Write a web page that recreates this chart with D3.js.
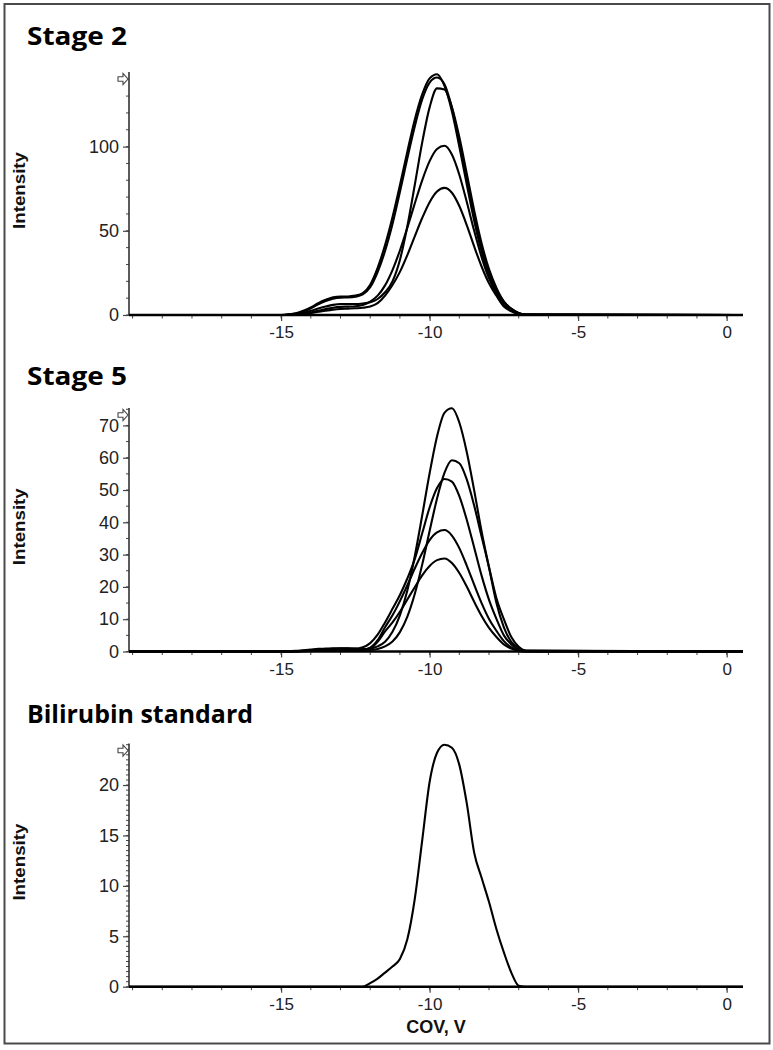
<!DOCTYPE html>
<html><head><meta charset="utf-8">
<script src="https://cdn.jsdelivr.net/npm/d3@7"></script>
<style>body{margin:0;background:#fff} svg{display:block}</style>
</head><body>
<svg id="c" width="773" height="1050"></svg>
<script>
// ---------- DATA ----------
const covGrid = [-20.12, -15, -14.75, -14.5, -14.25, -14, -13.75, -13.5, -13.25, -13, -12.75, -12.5, -12.25, -12,
  -11.75, -11.5, -11.25, -11, -10.75, -10.5, -10.25, -10, -9.75, -9.5, -9.25, -9, -8.75, -8.5, -8.25, -8,
  -7.75, -7.5, -7.25, -7, -6.75, 0.55];

const stage2A = [0, 0, 0.3, 1, 2.5, 4.5, 7, 9, 10.5, 11, 11, 11.5, 13, 18, 28, 41.5, 58, 77, 97, 116, 131, 140.5, 143, 136, 121, 100, 77.6, 56, 37.8, 23.7, 14, 7.6, 3.5, 1, 0.2, 0];
const stage2B = [0, 0, 0.2, 0.8, 2, 4, 6.3, 8.3, 9.7, 10.3, 10.4, 10.8, 12.2, 16.5, 25.5, 38, 54, 73, 93, 112, 128, 138, 141, 137, 123, 103, 80.5, 58.5, 39.5, 25, 15, 8, 3.8, 1.2, 0.2, 0];
const stage2C = [0, 0, 0.1, 0.5, 1.3, 2.5, 3.8, 5, 6, 6.5, 6.5, 6.5, 6.8, 7.5, 9.5, 13.5, 20, 32.7, 52.7, 77.2, 102.4, 123.3, 134.6, 133.9, 123.5, 105.7, 84.1, 62.1, 42.6, 27.2, 16.1, 8, 3.6, 1, 0.2, 0];
const stage2D = [0, 0, 0.1, 0.3, 0.8, 1.5, 2.5, 3.5, 4.3, 4.8, 5, 5.2, 6, 8, 11.5, 17.6, 26.7, 38.3, 51.8, 66.2, 80, 91.4, 98.6, 100.5, 95.3, 83.3, 67.2, 50, 34.4, 21.8, 12.7, 6, 2.8, 0.8, 0.1, 0];
const stage2E = [0, 0, 0.05, 0.2, 0.6, 1.2, 1.9, 2.6, 3.2, 3.6, 3.8, 4, 4.3, 5, 7, 11.5, 17.8, 25.6, 35.6, 46.7, 57.6, 67, 73.3, 75.5, 72.6, 64.7, 53.4, 40.7, 28.8, 18.8, 11.4, 5, 2.2, 0.6, 0.1, 0];

const stage5A = [0, 0, 0, 0.1, 0.2, 0.3, 0.5, 0.6, 0.7, 0.8, 0.8, 0.8, 0.7, 0.9, 1.6, 3.0, 6.1, 11.2, 18.9, 29.5, 42.1, 55.2, 66.6, 73.9, 75.3, 70.9, 61.8, 49.9, 37.2, 26, 15, 7.5, 3, 1, 0.2, 0];
const stage5B = [0, 0, 0, 0.1, 0.2, 0.4, 0.6, 0.7, 0.8, 0.9, 0.9, 0.8, 0.6, 0.5, 0.8, 1.6, 3.1, 6.0, 10.8, 17.8, 26.9, 37.3, 47.4, 55.3, 59.2, 58.3, 53.3, 45.2, 35.6, 26.1, 16.5, 10, 4.5, 1.5, 0.3, 0];
const stage5C = [0, 0, 0.1, 0.2, 0.4, 0.6, 0.8, 0.9, 1.0, 1.0, 1.0, 0.9, 1.3, 2.6, 5.2, 9.0, 13.2, 17.5, 22.6, 28.6, 36.6, 44.6, 50.6, 53.4, 52.6, 48.1, 40.8, 32.2, 23.5, 16, 10.1, 5, 2.2, 0.6, 0.1, 0];
const stage5D = [0, 0, 0, 0, 0.1, 0.2, 0.3, 0.4, 0.5, 0.5, 0.5, 0.5, 0.6, 1.2, 3.5, 7.5, 11.2, 15.6, 20.5, 25.7, 30.5, 34.5, 36.9, 37.6, 35.9, 32, 26.6, 20.7, 15, 10.1, 6.4, 3.2, 1.3, 0.3, 0, 0];
const stage5E = [0, 0, 0, 0, 0.1, 0.2, 0.3, 0.4, 0.5, 0.5, 0.5, 0.5, 0.5, 1.0, 3, 6.2, 9.0, 12.3, 16.1, 19.9, 23.6, 26.5, 28.3, 28.8, 27.4, 24.3, 20.1, 15.4, 11, 7.3, 4.5, 2.2, 0.9, 0.2, 0, 0];

const bilirubin = [0, 0, 0, 0, 0, 0, 0, 0, 0, 0, 0, 0, 0, 0.35, 0.8, 1.4, 2.0, 2.75, 4.7, 8.7, 14.5, 20.3, 23.2, 24.0, 23.7, 22.0, 18.2, 13.3, 10.8, 8.4, 5.7, 3.4, 1.4, 0.1, 0, 0];

const panelTitles = ["Stage 2", "Stage 5", "Bilirubin standard"];
const stage2YTicks = [0, 50, 100];
const stage5YTicks = [0, 10, 20, 30, 40, 50, 60, 70];
const bilirubinYTicks = [0, 5, 10, 15, 20];
const xTickValues = [-15, -10, -5, 0];
const yAxisTitle = "Intensity";
const xAxisTitle = "COV, V";

const panelSeries = [
  [stage2A, stage2B, stage2C, stage2D, stage2E],
  [stage5A, stage5B, stage5C, stage5D, stage5E],
  [bilirubin]
];
const panelYTicks = [stage2YTicks, stage5YTicks, bilirubinYTicks];
const panelYMax = [144.3, 75.4, 24.12];
const panelYMinor = [10, 5, 0.5];

// ---------- LAYOUT ----------
const layout = [
  {top: 72, zero: 315, titleY: 45, titleLen: 100},
  {top: 408, zero: 651.5, titleY: 385, titleLen: 100},
  {top: 743.5, zero: 986.7, titleY: 722.7, titleLen: 226}
];
const axisX = 129, axisRight = 743;
const fmt = d => String(d);

const svg = d3.select("#c");
svg.append("rect").attr("x", 0).attr("y", 0).attr("width", 773).attr("height", 1050).attr("fill", "#fff");
svg.append("rect").attr("x", 4.5).attr("y", 4).attr("width", 765).attr("height", 1039.5)
  .attr("fill", "none").attr("stroke", "#4a4a4a").attr("stroke-width", 2);

const x = d3.scaleLinear().domain([-20.12, 0.55]).range([axisX, axisRight]);

layout.forEach((L, p) => {
  const g = svg.append("g");
  const y = d3.scaleLinear().domain([0, panelYMax[p]]).range([L.zero, L.top]);

  // title
  g.append("text").attr("x", 27).attr("y", L.titleY)
    .attr("font-family", "'Open Sans', 'Noto Sans', sans-serif").attr("font-weight", "bold")
    .attr("font-size", 25.5).attr("textLength", L.titleLen).attr("lengthAdjust", "spacingAndGlyphs")
    .attr("fill", "#000").text(panelTitles[p]);

  // y title
  const yc = (L.top + L.zero) / 2 - 3;
  g.append("text").attr("transform", `translate(25,${yc}) rotate(-90)`)
    .attr("text-anchor", "middle").attr("font-family", "'Liberation Sans', Arial, sans-serif")
    .attr("font-weight", "bold").attr("font-size", 16).attr("textLength", 77).attr("lengthAdjust", "spacingAndGlyphs")
    .attr("fill", "#111").text(yAxisTitle);

  // y minor ticks
  g.append("g").selectAll("line").data(d3.range(0, panelYMax[p] + 1e-9, panelYMinor[p]))
    .join("line").attr("x1", axisX - 3).attr("x2", axisX)
    .attr("y1", d => y(d)).attr("y2", d => y(d)).attr("stroke", "#444").attr("stroke-width", 1);

  // y axis (major)
  const ya = g.append("g").attr("transform", `translate(${axisX},0)`)
    .call(d3.axisLeft(y).tickValues(panelYTicks[p]).tickSize(6).tickPadding(4).tickFormat(fmt));
  ya.select(".domain").remove();
  ya.selectAll(".tick line").attr("stroke", "#444").attr("stroke-width", 1.2);
  ya.selectAll(".tick text").attr("font-family", "'Liberation Sans', Arial, sans-serif")
    .attr("font-size", 18).attr("fill", "#222");

  // y axis line
  g.append("line").attr("x1", axisX).attr("x2", axisX).attr("y1", L.top).attr("y2", L.zero)
    .attr("stroke", "#333").attr("stroke-width", 1.6);

  // x minor ticks
  g.append("g").selectAll("line").data(d3.range(-20, 1, 1))
    .join("line").attr("x1", d => x(d)).attr("x2", d => x(d))
    .attr("y1", L.zero).attr("y2", L.zero + 3.5).attr("stroke", "#444").attr("stroke-width", 1);

  // x axis major
  const xa = g.append("g").attr("transform", `translate(0,${L.zero})`)
    .call(d3.axisBottom(x).tickValues(xTickValues).tickSize(6).tickPadding(5).tickFormat(fmt));
  xa.select(".domain").remove();
  xa.selectAll(".tick line").attr("stroke", "#444").attr("stroke-width", 1.2);
  xa.selectAll(".tick text").attr("font-family", "'Liberation Sans', Arial, sans-serif")
    .attr("font-size", 17).attr("fill", "#222");

  // curves
  const line = d3.line().x((d, i) => x(covGrid[i])).y(d => y(d)).curve(d3.curveMonotoneX);
  g.append("g").selectAll("path").data(panelSeries[p]).join("path")
    .attr("d", line).attr("fill", "none").attr("stroke", "#000").attr("stroke-width", 2.1)
    .attr("stroke-linejoin", "round");

  // x axis line (thick)
  g.append("line").attr("x1", axisX).attr("x2", axisRight).attr("y1", L.zero).attr("y2", L.zero)
    .attr("stroke", "#000").attr("stroke-width", 2.6);

  // hollow arrow marker at the top of the y axis
  const ax = 123, ay = L.top + 7;
  g.append("path").attr("transform", `translate(${ax},${ay})`)
    .attr("d", "M-5,-2.3 L0,-2.3 L0,-5.5 L5,0 L0,5.5 L0,2.3 L-5,2.3 Z")
    .attr("fill", "#fff").attr("stroke", "#444").attr("stroke-width", 1.1);
});

svg.append("text").attr("x", 436).attr("y", 1033).attr("text-anchor", "middle")
  .attr("font-family", "'Liberation Sans', Arial, sans-serif").attr("font-weight", "bold")
  .attr("font-size", 18).attr("fill", "#111").text(xAxisTitle);
</script>
</body></html>
